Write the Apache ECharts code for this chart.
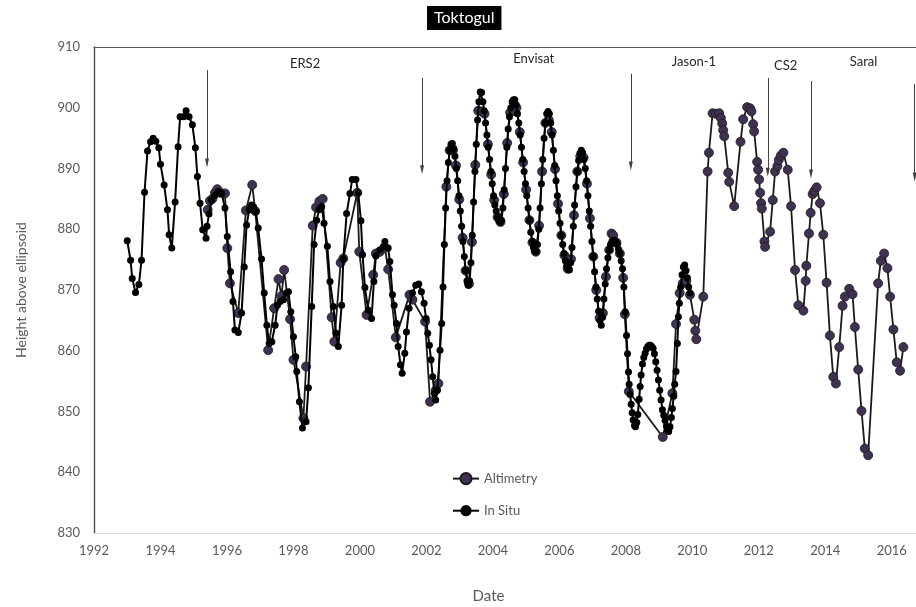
<!DOCTYPE html>
<html><head><meta charset="utf-8">
<script src="https://cdn.jsdelivr.net/npm/echarts@6/dist/echarts.min.js"></script>
<style>html,body{margin:0;padding:0;background:#fff}#c{width:916px;height:607px}</style>
</head><body><div id="c"></div>
<script>
// In Situ water level (m above ellipsoid), [decimal year, height]
const inSituERS = [
[1993.00,878.1],[1993.10,874.9],[1993.15,871.9],[1993.25,869.6],[1993.35,870.9],[1993.43,874.9],
[1993.52,886.1],[1993.61,892.9],[1993.70,894.4],[1993.78,895.0],[1993.86,894.5],[1993.95,893.4],
[1994.00,890.7],[1994.11,887.3],[1994.21,883.2],[1994.26,879.1],[1994.34,876.9],[1994.44,884.5],
[1994.53,893.6],[1994.59,898.5],[1994.69,898.5],[1994.77,899.5],[1994.86,898.5],[1994.96,897.2],
[1995.05,893.4],[1995.11,888.7],[1995.19,884.3],[1995.27,879.9],[1995.37,878.5],[1995.40,880.5],
[1995.46,882.5],[1995.54,884.8],[1995.64,885.6],[1995.74,886.2],[1995.84,885.9],[1995.94,883.5],
[1996.01,878.8],[1996.11,873.0],[1996.18,868.1],[1996.24,863.4],[1996.34,863.0],[1996.44,866.2],
[1996.52,873.8],[1996.59,880.7],[1996.67,883.2],[1996.74,884.0],[1996.80,883.7],[1996.87,882.9],
[1996.94,880.2],[1997.04,875.1],[1997.12,869.5],[1997.20,864.2],[1997.27,861.2],[1997.35,861.5],
[1997.45,864.2],[1997.52,867.5],[1997.60,868.1],[1997.70,868.4],[1997.78,869.5],[1997.85,869.7],
[1997.92,866.4],[1998.00,862.3],[1998.07,859.0],[1998.10,856.6],[1998.18,851.6],[1998.27,847.3],
[1998.38,848.3],[1998.45,853.9],[1998.55,867.3],[1998.62,877.5],[1998.70,881.5],[1998.77,883.2],
[1998.85,883.7],[1998.92,881.0],[1999.02,877.2],[1999.10,871.4],[1999.20,867.3],[1999.28,862.9],
[1999.35,860.7],[1999.45,867.5],[1999.50,875.1],[1999.60,882.6],[1999.70,885.9],[1999.77,888.2],
[1999.88,888.2],[1999.95,886.0],[2000.03,881.4],[2000.08,875.8],[2000.15,870.4],[2000.25,866.7],
[2000.35,865.3],[2000.42,871.4],[2000.48,875.6],[2000.60,876.6],[2000.70,877.1],[2000.75,878.0],
[2000.85,876.9],[2000.90,874.7],[2000.98,869.2],[2001.03,867.5],[2001.10,864.5],[2001.15,860.7],
[2001.22,857.7],[2001.27,856.3],[2001.35,859.6],[2001.40,863.1],[2001.48,867.0],[2001.58,869.5],
[2001.68,870.8],[2001.77,871.0],[2001.85,869.7],[2001.93,867.8],[2001.99,865.3],[2002.04,862.9],
[2002.09,860.9],[2002.14,858.5],[2002.19,855.7],[2002.24,853.0],[2002.28,851.9],[2002.33,853.5],
[2002.41,860.1]
];
const inSituEnvisat = [
[2002.46,864.5],[2002.50,870.5],[2002.54,877.5],[2002.58,883.5],[2002.62,888.0],[2002.66,891.0],
[2002.70,893.0],[2002.74,894.0],[2002.78,894.1],[2002.82,893.3],[2002.86,892.0],[2002.90,890.0],
[2002.94,888.0],[2002.98,885.5],[2003.02,883.0],[2003.06,880.5],[2003.10,878.0],[2003.14,875.5],
[2003.18,873.2],[2003.22,871.5],[2003.26,870.8],[2003.30,871.5],[2003.34,874.5],[2003.38,879.0],
[2003.42,884.5],[2003.46,889.5],[2003.50,894.0],[2003.54,898.0],[2003.58,901.0],[2003.62,902.6],
[2003.66,902.5],[2003.70,901.0],[2003.74,899.5],[2003.78,897.5],[2003.82,895.5],[2003.86,893.5],
[2003.90,891.5],[2003.94,889.5],[2003.98,887.5],[2004.02,885.5],[2004.06,884.0],[2004.10,883.0],
[2004.14,882.0],[2004.18,881.4],[2004.22,881.2],[2004.26,881.5],[2004.30,883.5],[2004.34,886.5],
[2004.38,890.0],[2004.42,893.5],[2004.46,896.5],[2004.50,898.5],[2004.54,900.0],[2004.58,901.0],
[2004.62,901.3],[2004.66,901.3],[2004.70,900.5],[2004.74,899.0],[2004.78,897.5],[2004.82,895.5],
[2004.86,893.5],[2004.90,891.5],[2004.94,889.5],[2004.98,887.5],[2005.02,885.5],[2005.06,883.5],
[2005.10,881.5],[2005.14,879.5],[2005.18,878.0],[2005.22,877.0],[2005.26,876.5],[2005.30,876.3],
[2005.34,877.5],[2005.38,880.0],[2005.42,883.5],[2005.46,887.5],[2005.50,891.5],[2005.54,895.0],
[2005.58,897.5],[2005.62,899.0],[2005.66,899.4],[2005.70,899.0],[2005.74,897.5],[2005.78,895.5],
[2005.82,893.0],[2005.86,890.5],[2005.90,888.0],[2005.94,885.5],[2005.98,883.0],[2006.02,881.0],
[2006.06,879.0],[2006.10,877.5],[2006.14,876.0],[2006.18,874.8],[2006.22,874.0],[2006.26,873.4],
[2006.30,873.3],[2006.34,874.5],[2006.38,877.0],[2006.42,880.5],[2006.46,884.0],[2006.50,887.0],
[2006.54,889.5],[2006.58,891.3],[2006.62,892.5],[2006.66,893.0],[2006.70,892.6],[2006.74,891.5],
[2006.78,890.0],[2006.82,888.0],[2006.86,885.5],[2006.90,883.0],[2006.94,880.5],[2006.98,878.0],
[2007.02,875.5],[2007.06,873.0],[2007.10,870.5],[2007.14,868.5],[2007.18,866.5],[2007.22,865.0],
[2007.26,864.2],[2007.30,865.5],[2007.34,868.5],[2007.38,871.0],[2007.42,873.5],[2007.46,875.3],
[2007.50,876.6],[2007.54,877.5],[2007.58,878.0],[2007.62,878.2],[2007.66,878.2],[2007.70,878.0],
[2007.74,877.5],[2007.78,876.7],[2007.82,876.0],[2007.86,874.8],[2007.90,873.5],[2007.94,870.5],
[2007.98,866.4],[2008.02,862.5],[2008.05,859.5],[2008.08,856.5],[2008.10,854.5],[2008.13,852.8],
[2008.16,851.2],[2008.19,849.8],[2008.22,848.6],[2008.26,847.7],[2008.29,847.5],[2008.33,848.2],
[2008.36,849.5],[2008.40,852.0],[2008.43,854.1],[2008.46,856.0],[2008.50,857.8],[2008.54,858.9],
[2008.58,859.6],[2008.62,860.3],[2008.66,860.7],[2008.70,860.9],[2008.74,860.9],[2008.78,860.7],
[2008.82,860.4],[2008.86,859.5],[2008.90,858.2],[2008.94,856.8],[2008.98,855.2],[2009.02,853.5],
[2009.06,851.9],[2009.10,850.3],[2009.14,849.4],[2009.18,848.5],[2009.22,847.6],[2009.26,846.9],
[2009.29,846.7],[2009.33,847.5],[2009.37,849.0],[2009.40,850.5],[2009.44,852.5],[2009.47,854.5],
[2009.51,856.6],[2009.55,861.2],[2009.58,865.6],[2009.61,867.8],[2009.65,870.5],[2009.69,872.5],
[2009.73,873.8],[2009.77,874.1],[2009.81,873.2],[2009.85,872.0],[2009.89,870.5],[2009.93,869.5]
];
// Altimetry heights, [decimal year, height]
const altiERS = [
[1995.42,883.2],[1995.49,884.7],[1995.56,885.0],[1995.64,886.0],[1995.71,886.6],[1995.80,886.0],
[1995.94,885.9],[1996.01,876.9],[1996.09,871.1],[1996.34,866.2],[1996.57,883.1],[1996.76,887.3],
[1996.85,883.0],[1997.24,860.1],[1997.42,867.0],[1997.55,871.8],[1997.64,869.0],[1997.72,873.3],
[1997.90,865.2],[1998.00,858.5],[1998.30,848.9],[1998.38,857.4],[1998.58,880.6],[1998.68,883.6],
[1998.78,884.6],[1998.88,885.0],[1999.15,865.5],[1999.23,861.5],[1999.42,874.5],[1999.50,875.2],
[1999.92,886.0],[1999.98,876.3],[2000.20,865.9],[2000.40,872.5],[2000.48,876.0],[2000.60,876.3],
[2000.75,877.0],[2000.85,873.4],[2001.08,862.2],[2001.49,869.2],[2001.58,868.4],[2001.96,864.8],
[2002.11,851.6],[2002.28,853.5],[2002.36,854.6]
];
const altiEnvisat = [
[2002.60,887.0],[2002.70,893.0],[2002.80,893.0],[2002.89,890.5],[2002.99,884.9],[2003.09,878.6],
[2003.18,873.2],[2003.28,871.0],[2003.37,877.9],[2003.47,890.6],[2003.56,899.5],[2003.66,899.4],
[2003.75,899.0],[2003.85,894.0],[2003.95,889.0],[2004.04,884.8],[2004.14,882.0],[2004.23,881.2],
[2004.33,885.8],[2004.43,894.2],[2004.52,899.2],[2004.62,899.5],[2004.71,900.0],[2004.81,896.0],
[2004.91,891.0],[2005.00,886.5],[2005.10,881.5],[2005.19,877.8],[2005.29,876.3],[2005.39,880.6],
[2005.48,889.5],[2005.58,897.5],[2005.68,898.0],[2005.77,896.0],[2005.87,889.9],[2005.96,884.2],
[2006.06,879.0],[2006.15,875.7],[2006.25,873.5],[2006.35,875.1],[2006.44,882.3],[2006.54,889.5],
[2006.63,892.0],[2006.73,891.8],[2006.83,887.5],[2006.92,881.8],[2007.02,875.5],[2007.11,870.0],
[2007.21,865.4],[2007.31,866.2],[2007.40,872.2],[2007.50,876.6],[2007.57,879.3],[2007.62,879.0],
[2007.72,877.8],[2007.82,876.0],[2007.92,872.0],[2007.97,866.0],[2008.09,853.3]
];
const altiLater = [
[2009.11,845.8],[2009.40,853.0],[2009.51,864.4],[2009.62,869.5],[2009.71,871.1],[2009.82,871.5],
[2009.93,869.2],[2010.06,865.1],[2010.09,863.3],[2010.12,861.9],[2010.33,868.9],[2010.46,889.5],
[2010.50,892.6],[2010.61,899.1],[2010.71,899.0],[2010.81,899.1],[2010.86,898.3],[2010.90,897.4],
[2010.93,896.3],[2010.96,895.3],[2011.08,889.3],[2011.11,887.8],[2011.26,883.8],[2011.45,894.4],
[2011.53,898.1],[2011.65,900.1],[2011.74,899.9],[2011.78,899.4],[2011.83,897.3],[2011.86,896.1],
[2011.95,891.1],[2011.98,889.8],[2012.01,888.2],[2012.04,886.0],[2012.07,884.3],[2012.09,883.4],
[2012.17,878.0],[2012.19,877.1],[2012.34,879.6],[2012.42,884.8],[2012.49,889.5],[2012.56,890.4],
[2012.60,891.4],[2012.66,892.1],[2012.74,892.6],[2012.87,889.8],[2012.97,883.8],[2013.09,873.3],
[2013.19,867.5],[2013.34,866.6],[2013.41,871.5],[2013.43,874.0],[2013.51,879.3],[2013.56,882.7],
[2013.62,885.8],[2013.67,886.3],[2013.74,886.9],[2013.84,884.3],[2013.94,879.1],[2014.04,871.2],
[2014.14,862.5],[2014.24,855.7],[2014.32,854.6],[2014.42,860.6],[2014.52,867.4],[2014.59,868.9],
[2014.72,870.2],[2014.82,869.3],[2014.89,863.9],[2014.99,856.9],[2015.09,850.1],[2015.19,843.9],
[2015.29,842.8],[2015.59,871.1],[2015.67,874.8],[2015.77,876.0],[2015.87,873.6],[2015.95,868.9],
[2016.05,863.5],[2016.15,858.1],[2016.25,856.7],[2016.35,860.6]
];
// Mission change annotations: [year, arrow top height, arrow tip height]
const arrows = [
[1995.40,906.2,890.9],[2001.87,904.9,889.8],[2008.15,905.6,890.4],
[2012.27,904.9,889.4],[2013.57,904.4,889.1],[2016.69,903.9,888.6]
];
// Mission names: [name, year, height]
const missions = [
['ERS2',1998.35,907.2],['Envisat',2005.23,908.1],['Jason-1',2010.05,907.5],
['CS2',2012.81,906.9],['Saral',2015.15,907.5]
];

const inSitu = inSituERS.concat(inSituEnvisat);
const altimetry = altiERS.concat(altiEnvisat, altiLater);

const FONT = 'Lato, "Open Sans", "DejaVu Sans", sans-serif';
const chart = echarts.init(document.getElementById('c'), null, {renderer: 'canvas'});
chart.setOption({
  animation: false,
  textStyle: {fontFamily: FONT},
  title: {
    text: 'Toktogul', left: 427, top: 6, padding: [4, 7, 4, 7],
    backgroundColor: '#000',
    textStyle: {color: '#fff', fontSize: 16, fontWeight: 'normal', fontFamily: FONT}
  },
  grid: {left: 94, right: -9, top: 47, bottom: 74, containLabel: false, outerBoundsMode: 'none'},
  legend: {
    orient: 'vertical', left: 447, top: 467, itemWidth: 26, itemHeight: 14, itemGap: 19,
    textStyle: {color: '#595959', fontSize: 13, fontFamily: FONT},
    data: ['Altimetry', 'In Situ']
  },
  xAxis: [{
    type: 'value', min: 1992, max: 2017, interval: 2,
    name: 'Date', nameLocation: 'middle', nameGap: 56,
    nameTextStyle: {color: '#595959', fontSize: 15, fontFamily: FONT, padding: [0, 42, 0, 0]},
    axisLine: {show: true, lineStyle: {color: '#d9d9d9', width: 1}},
    axisTick: {show: false}, splitLine: {show: false},
    axisLabel: {color: '#595959', fontSize: 13, margin: 11, showMaxLabel: false,
      formatter: v => (v % 2 === 0 ? String(v) : '')}
  }, {
    type: 'value', position: 'top', min: 1992, max: 2017, interval: 2,
    axisLine: {show: true, onZero: false, lineStyle: {color: '#595959', width: 1}},
    axisTick: {show: false}, splitLine: {show: false}, axisLabel: {show: false}
  }],
  yAxis: {
    type: 'value', min: 830, max: 910, interval: 10,
    name: 'Height above ellipsoid', nameLocation: 'middle', nameGap: 66,
    nameTextStyle: {color: '#595959', fontSize: 14, fontFamily: FONT},
    axisLine: {show: true, lineStyle: {color: '#404040', width: 1.3}},
    axisTick: {show: false}, splitLine: {show: false},
    axisLabel: {color: '#595959', fontSize: 13, margin: 14}
  },
  series: [{
    name: 'Altimetry', type: 'line', data: altimetry, z: 2,
    symbol: 'circle', symbolSize: 9, showSymbol: true, showAllSymbol: true,
    lineStyle: {color: '#1a1a1a', width: 1.8},
    itemStyle: {color: '#3f3152', borderColor: '#1a1a1a', borderWidth: 0.8},
    emphasis: {disabled: true}
  }, {
    name: 'In Situ', type: 'line', data: inSitu, z: 3,
    symbol: 'circle', symbolSize: 7, showSymbol: true, showAllSymbol: true,
    lineStyle: {color: '#000', width: 2},
    itemStyle: {color: '#000'},
    emphasis: {disabled: true},
    markLine: {
      silent: true, symbol: ['none', 'triangle'], symbolSize: [4, 9],
      lineStyle: {color: '#404040', width: 1, type: 'solid'},
      label: {show: false}, emphasis: {disabled: true},
      data: arrows.map(a => [{coord: [a[0], a[1]]}, {coord: [a[0], a[2]]}])
    },
    markPoint: {
      silent: true, symbol: 'circle', symbolSize: 1,
      itemStyle: {color: 'rgba(0,0,0,0)'},
      label: {show: true, position: 'inside', formatter: '{b}', color: '#262626', fontSize: 13, fontFamily: FONT},
      data: missions.map(m => ({name: m[0], coord: [m[1], m[2]]}))
    }
  }]
});
</script>
</body></html>
